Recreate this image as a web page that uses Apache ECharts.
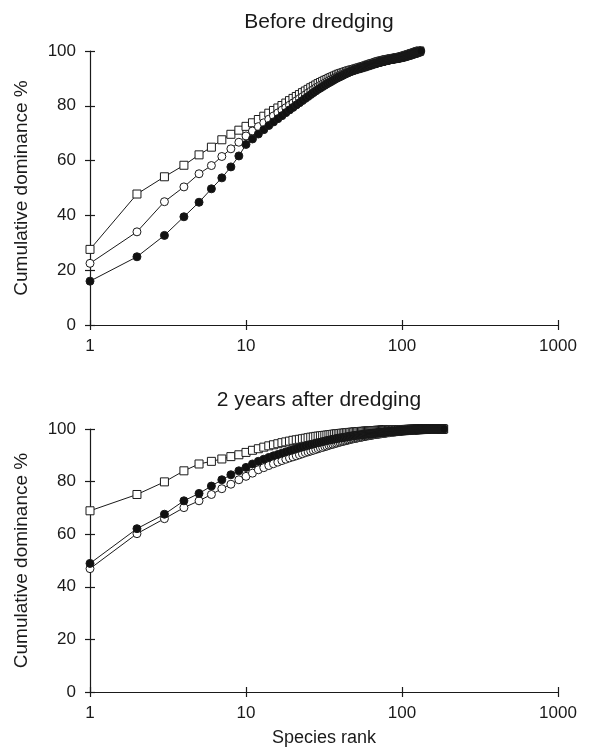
<!DOCTYPE html>
<html>
<head>
<meta charset="utf-8">
<script src="https://cdn.jsdelivr.net/npm/echarts@6/dist/echarts.min.js"></script>
<style>
html,body{margin:0;padding:0;background:#fff;}
#c{width:589px;height:751px;}
</style>
</head>
<body>
<div id="c"></div>
<script>
// Chart titles and labels
const titles = ["Before dredging", "2 years after dredging"];
const xName = "Species rank";
const yName = "Cumulative dominance %";
const seriesNames = ["Squares", "Open circles", "Filled circles"];

// Before dredging: cumulative dominance (%) by species rank 1..N
const beforeSquares = [
27.6,47.8,54.1,58.3,62.1,64.9,67.6,69.6,71.1,72.5,
73.8,75.0,76.2,77.3,78.3,79.2,80.1,81.0,81.9,82.7,
83.4,84.1,84.8,85.4,86.0,86.6,87.1,87.6,88.1,88.5,
88.9,89.3,89.6,90.0,90.3,90.6,90.9,91.2,91.5,91.7,
91.9,92.1,92.3,92.5,92.7,92.8,93.0,93.1,93.2,93.4,
93.5,93.7,93.8,93.9,94.1,94.2,94.3,94.5,94.6,94.8,
94.9,95.0,95.2,95.3,95.4,95.5,95.6,95.8,95.9,96.0,
96.1,96.2,96.3,96.3,96.4,96.5,96.6,96.7,96.7,96.8,
96.9,96.9,97.0,97.0,97.1,97.1,97.2,97.2,97.3,97.3,
97.4,97.4,97.5,97.5,97.6,97.6,97.7,97.7,97.8,97.9,
97.9,98.0,98.1,98.1,98.2,98.3,98.4,98.4,98.5,98.6,
98.6,98.7,98.8,98.9,98.9,99.0,99.1,99.1,99.2,99.3,
99.3,99.4,99.5,99.6,99.6,99.7,99.8,99.8,99.9,100
];
const beforeOpen = [
22.5,34.0,45.0,50.4,55.2,58.2,61.5,64.3,66.7,69.0,
70.8,72.4,73.8,75.1,76.3,77.4,78.4,79.3,80.2,81.0,
81.8,82.6,83.3,84.0,84.7,85.3,85.9,86.5,87.0,87.5,
87.9,88.3,88.7,89.1,89.5,89.8,90.2,90.5,90.8,91.1,
91.4,91.6,91.9,92.1,92.3,92.5,92.7,92.9,93.1,93.2,
93.4,93.5,93.7,93.8,93.9,94.1,94.2,94.3,94.5,94.6,
94.7,94.8,95.0,95.1,95.2,95.3,95.4,95.5,95.6,95.7,
95.8,95.9,96.0,96.1,96.2,96.3,96.4,96.4,96.5,96.6,
96.7,96.7,96.8,96.9,96.9,97.0,97.1,97.1,97.2,97.2,
97.3,97.3,97.4,97.4,97.5,97.5,97.6,97.6,97.7,97.8,
97.8,97.9,98.0,98.0,98.1,98.2,98.3,98.3,98.4,98.5,
98.5,98.6,98.7,98.8,98.8,98.9,99.0,99.1,99.1,99.2,
99.3,99.4,99.4,99.5,99.6,99.7,99.7,99.8,99.9,100
];
const beforeFilled = [
16.0,24.9,32.7,39.5,44.8,49.7,53.7,57.7,61.7,65.9,
67.9,69.7,71.3,72.8,74.1,75.3,76.4,77.5,78.5,79.4,
80.3,81.1,81.9,82.7,83.4,84.1,84.8,85.4,86.0,86.5,
87.0,87.5,88.0,88.4,88.8,89.2,89.6,90.0,90.3,90.6,
90.9,91.2,91.5,91.8,92.0,92.3,92.5,92.7,92.9,93.1,
93.3,93.5,93.6,93.8,93.9,94.1,94.2,94.3,94.5,94.6,
94.7,94.8,94.9,95.1,95.2,95.3,95.4,95.5,95.6,95.7,
95.8,95.9,96.0,96.0,96.1,96.2,96.3,96.4,96.5,96.5,
96.6,96.7,96.7,96.8,96.9,96.9,97.0,97.1,97.1,97.2,
97.2,97.3,97.3,97.4,97.4,97.5,97.5,97.6,97.7,97.7,
97.8,97.9,97.9,98.0,98.1,98.1,98.2,98.3,98.4,98.4,
98.5,98.6,98.6,98.7,98.8,98.9,98.9,99.0,99.1,99.2,
99.2,99.3,99.4,99.5,99.5,99.6,99.7,99.8,99.8,99.9,
99.95,100
];

// 2 years after dredging
const afterSquares = [
68.9,75.1,79.9,84.1,86.7,87.7,88.6,89.5,90.2,91.1,
91.9,92.5,93.1,93.6,94.0,94.4,94.8,95.1,95.4,95.7,
95.9,96.1,96.3,96.5,96.7,96.9,97.0,97.2,97.3,97.4,
97.5,97.6,97.7,97.8,97.9,98.0,98.1,98.2,98.2,98.3,
98.4,98.4,98.5,98.6,98.6,98.7,98.7,98.8,98.8,98.9,
98.9,99.0,99.0,99.0,99.1,99.1,99.1,99.2,99.2,99.2,
99.3,99.3,99.3,99.3,99.4,99.4,99.4,99.4,99.5,99.5,
99.5,99.5,99.5,99.6,99.6,99.6,99.6,99.6,99.6,99.7,
99.70,99.70,99.71,99.71,99.72,99.72,99.73,99.73,99.74,99.74,
99.75,99.75,99.76,99.76,99.77,99.77,99.78,99.78,99.79,99.79,
99.80,99.80,99.81,99.81,99.82,99.82,99.83,99.83,99.84,99.84,
99.85,99.85,99.86,99.86,99.87,99.87,99.88,99.88,99.89,99.89,
99.90,99.90,99.91,99.91,99.91,99.92,99.92,99.92,99.93,99.93,
99.93,99.94,99.94,99.94,99.95,99.95,99.95,99.96,99.96,99.96,
99.96,99.97,99.97,99.97,99.97,99.97,99.98,99.98,99.98,99.98,
99.98,99.98,99.99,99.99,99.99,99.99,99.99,99.99,99.99,99.99,
100,100,100,100,100,100,100,100,100,100,
100,100,100,100,100,100,100,100,100,100,
100,100,100,100,100
];
const afterOpen = [
46.9,60.2,65.9,70.1,72.7,75.1,77.3,79.0,80.7,82.0,
83.2,84.5,85.3,86.1,86.8,87.4,88.0,88.5,89.0,89.4,
89.8,90.2,90.6,91.0,91.3,91.6,91.9,92.2,92.5,92.8,
93.0,93.3,93.5,93.8,94.0,94.2,94.4,94.6,94.8,95.0,
95.2,95.3,95.5,95.6,95.8,95.9,96.1,96.2,96.3,96.4,
96.5,96.6,96.7,96.8,96.9,97.0,97.1,97.2,97.3,97.4,
97.4,97.5,97.6,97.7,97.7,97.8,97.9,97.9,98.0,98.0,
98.1,98.1,98.2,98.2,98.3,98.3,98.4,98.4,98.5,98.5,
98.6,98.6,98.6,98.7,98.7,98.8,98.8,98.8,98.9,98.9,
98.9,99.0,99.0,99.0,99.1,99.1,99.1,99.1,99.2,99.2,
99.22,99.24,99.26,99.28,99.30,99.32,99.33,99.35,99.37,99.38,
99.40,99.42,99.43,99.45,99.46,99.48,99.49,99.51,99.52,99.54,
99.55,99.56,99.58,99.59,99.60,99.62,99.63,99.64,99.65,99.67,
99.68,99.69,99.70,99.71,99.72,99.73,99.74,99.75,99.76,99.77,
99.78,99.79,99.80,99.81,99.82,99.83,99.84,99.85,99.86,99.86,
99.87,99.88,99.89,99.90,99.90,99.91,99.92,99.93,99.93,99.94,
99.95,99.95,99.96,99.96,99.97,99.97,99.98,99.98,99.99,99.99,
99.99,99.99,100,100,100,100,100,100,100,100,
100,100,100,100,100
];
const afterFilled = [
48.9,62.1,67.6,72.7,75.5,78.3,80.7,82.6,84.1,85.4,
86.7,87.7,88.5,89.2,89.8,90.3,90.8,91.3,91.7,92.1,
92.5,92.9,93.2,93.5,93.8,94.1,94.3,94.6,94.8,95.0,
95.2,95.4,95.6,95.8,95.9,96.1,96.2,96.4,96.5,96.6,
96.7,96.8,96.9,97.0,97.1,97.2,97.3,97.4,97.4,97.5,
97.6,97.7,97.7,97.8,97.8,97.9,98.0,98.0,98.1,98.1,
98.2,98.2,98.3,98.3,98.4,98.4,98.4,98.5,98.5,98.6,
98.6,98.6,98.7,98.7,98.7,98.8,98.8,98.8,98.9,98.9,
98.9,99.0,99.0,99.0,99.0,99.1,99.1,99.1,99.1,99.2,
99.2,99.2,99.2,99.3,99.3,99.3,99.3,99.3,99.4,99.4,
99.42,99.44,99.45,99.47,99.48,99.50,99.51,99.53,99.54,99.55,
99.57,99.58,99.59,99.60,99.62,99.63,99.64,99.65,99.66,99.67,
99.68,99.69,99.70,99.71,99.72,99.73,99.74,99.75,99.76,99.77,
99.78,99.79,99.80,99.81,99.82,99.83,99.84,99.84,99.85,99.86,
99.87,99.88,99.88,99.89,99.90,99.91,99.91,99.92,99.93,99.93,
99.94,99.94,99.95,99.95,99.96,99.96,99.97,99.97,99.97,99.98,
99.98,99.98,99.98,99.99,99.99,99.99,99.99,99.99,100,100,
100,100,100,100,100,100,100,100,100,100,
100,100,100,100,100
];

const xTicks = [1, 10, 100, 1000];
const yMin = 0, yMax = 100, yStep = 20;

const FONT = "'Liberation Sans', Arial, sans-serif";
const INK = '#1a1a1a';

function toXY(arr) { return arr.map((v, i) => [i + 1, v]); }

const grids = [
  { left: 90, width: 468, top: 51, height: 274 },
  { left: 90, width: 468, top: 429, height: 263 }
];

const xAxes = [], yAxes = [], series = [];
grids.forEach((g, gi) => {
  const showName = gi === 1;
  xAxes.push({
    type: 'log', logBase: 10, min: xTicks[0], max: xTicks[xTicks.length - 1], gridIndex: gi,
    name: showName ? xName : '', nameLocation: 'middle', nameGap: 37,
    nameTextStyle: { fontFamily: FONT, fontSize: 18, color: INK },
    axisLine: { lineStyle: { color: INK, width: 1.2 } },
    axisTick: { show: true, length: 5, lineStyle: { color: INK, width: 1.2 } },
    minorTick: { show: false },
    axisLabel: { fontFamily: FONT, fontSize: 17, color: INK, margin: 13,
      formatter: v => String(Math.round(v)) },
    splitLine: { show: false }
  });
  xAxes.push({
    type: 'log', logBase: 10, min: xTicks[0], max: xTicks[xTicks.length - 1], gridIndex: gi,
    position: 'bottom',
    axisLine: { show: false },
    axisTick: { show: true, inside: true, length: 5, lineStyle: { color: INK, width: 1.2 } },
    axisLabel: { show: false }, splitLine: { show: false }
  });
  yAxes.push({
    type: 'value', min: yMin, max: yMax, interval: yStep, gridIndex: gi,
    name: yName, nameLocation: 'middle', nameRotate: 90, nameGap: 59,
    nameTextStyle: { fontFamily: FONT, fontSize: 19, color: INK },
    axisLine: { show: true, lineStyle: { color: INK, width: 1.2 } },
    axisTick: { show: true, length: 5, lineStyle: { color: INK, width: 1.2 } },
    axisLabel: { fontFamily: FONT, fontSize: 17, color: INK, margin: 14 },
    splitLine: { show: false }
  });
  yAxes.push({
    type: 'value', min: yMin, max: yMax, interval: yStep, gridIndex: gi,
    position: 'left',
    axisLine: { show: false },
    axisTick: { show: true, inside: true, length: 5, lineStyle: { color: INK, width: 1.2 } },
    axisLabel: { show: false }, splitLine: { show: false }
  });
});

const sets = [
  [beforeSquares, beforeOpen, beforeFilled],
  [afterSquares, afterOpen, afterFilled]
];
const styles = [
  { symbol: 'rect', size: 8, color: '#ffffff' },
  { symbol: 'circle', size: 8, color: '#ffffff' },
  { symbol: 'circle', size: 8, color: '#111111' }
];
sets.forEach((set, gi) => {
  set.forEach((vals, si) => {
    const st = styles[si];
    series.push({
      name: seriesNames[si], type: 'line',
      xAxisIndex: gi * 2, yAxisIndex: gi * 2,
      data: toXY(vals),
      symbol: st.symbol, symbolSize: st.size, showAllSymbol: true,
      lineStyle: { color: INK, width: 1 },
      itemStyle: { color: st.color, borderColor: INK, borderWidth: 1 },
      emphasis: { disabled: true },
      animation: false, z: 2 + si
    });
  });
});

const chart = echarts.init(document.getElementById('c'), null, { renderer: 'canvas' });
chart.setOption({
  backgroundColor: '#ffffff',
  animation: false,
  title: [
    { text: titles[0], left: 314, top: 7, textAlign: 'center',
      textStyle: { fontFamily: FONT, fontSize: 21, fontWeight: 'normal', color: INK } },
    { text: titles[1], left: 314, top: 385, textAlign: 'center',
      textStyle: { fontFamily: FONT, fontSize: 21, fontWeight: 'normal', color: INK } }
  ],
  grid: grids,
  xAxis: xAxes,
  yAxis: yAxes,
  series: series
});
</script>
</body>
</html>
